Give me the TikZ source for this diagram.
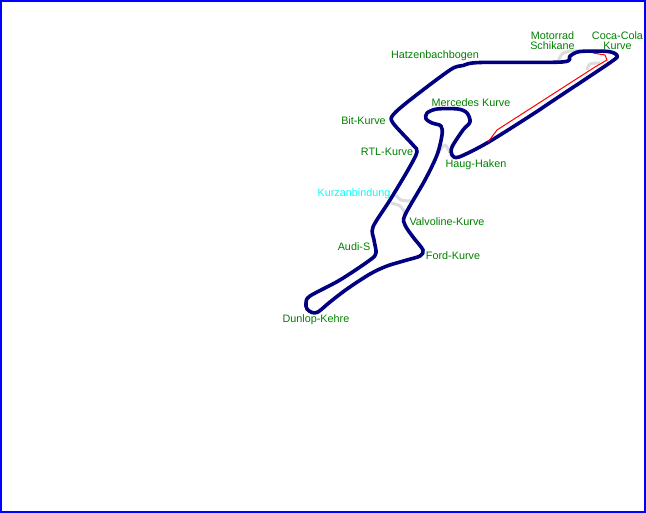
\documentclass[tikz,border=0pt]{standalone}
\usepackage{fontspec}
\setmainfont{Liberation Sans}
\definecolor{trackblue}{RGB}{0,0,128}
\definecolor{labelgreen}{RGB}{0,128,0}
\definecolor{shortgray}{RGB}{220,220,220}
\definecolor{linkcyan}{RGB}{0,255,255}
\begin{document}
\begin{tikzpicture}[x=1pt, y=-1pt, every node/.style={font=\fontsize{10.8}{11.5}\selectfont, inner sep=0pt, align=center},
	lbl/.style={text=labelgreen}, track/.style={draw=trackblue, line width=3.6pt, line join=round},
	alt/.style={draw=shortgray, line width=3pt, line join=round}]
	\useasboundingbox (0,0) rectangle (646,513);
	\draw[blue, line width=2pt] (1,1) rectangle (645,512);
	% grey link roads
	\draw[alt] plot[smooth, tension=0.5] coordinates {(558,62) (562,54) (570,51) (580,51)};
	\draw[alt] plot[smooth, tension=0.5] coordinates {(587,70) (590,64) (600,63)};
	\draw[alt] plot[smooth, tension=0.5] coordinates {(438,153) (445,145) (450,153)};
	\draw[alt] plot[smooth, tension=0.5] coordinates {(396,195) (401,200) (411,201)};
	\draw[alt] plot[smooth, tension=0.5] coordinates {(391,203) (400,206) (405,213)};
	% main loop
	\draw[track] plot[smooth cycle, tension=0.5] coordinates {
		(480,62.5) (562,62) (570,56) (580,51.5) (608,51.5) (617,55.5) (611,62)
		(557,98) (530,116) (487,143) (459,157) (452,155) (452,147) (463,130) (470,122)
		(467,113) (458,109) (437,109) (427,113) (426,119) (432,123) (441,126)
		(442,135) (437,155) (425,180) (405,215) (405,225) (413,237) (423,250)
		(420,256) (407,260) (387,266) (370,274) (347,289) (330,302) (318,312)
		(312,312.5) (307,309) (306,303) (310,296) (340,280) (370,260) (376,253) (374,240)
		(373,227) (390,200) (408,170) (417,152) (413,145) (393,123) (393,115)
		(410,100) (450,70) (463,65.5)};
	% red pit lane
	\draw[red, line width=1pt] (488,142) -- (497,130) -- (595,67) -- (607,60) -- (605,55) -- (593,53);
	\node[lbl] (hatzenbach) at (435,56) {Hatzenbachbogen};
	\node[lbl] (schikane) at (552.5,40.5) {Motorrad\\[-1.5pt]Schikane};
	\node[lbl] (cocacola) at (617.5,40.5) {Coca-Cola\\[-1.5pt]Kurve};
	\node[lbl] (mercedes) at (471,103) {Mercedes Kurve};
	\node[lbl] (bit) at (363.5,121) {Bit-Kurve};
	\node[lbl] (rtl) at (387,152) {RTL-Kurve};
	\node[lbl] (haug) at (476,165) {Haug-Haken};
	\node[text=linkcyan] (kurzanbindung) at (354,194) {Kurzanbindung};
	\node[lbl] (valvoline) at (447,222) {Valvoline-Kurve};
	\node[lbl] (audi) at (354,247) {Audi-S};
	\node[lbl] (ford) at (453,256) {Ford-Kurve};
	\node[lbl] (dunlop) at (316,320) {Dunlop-Kehre};
\end{tikzpicture}
\end{document}
